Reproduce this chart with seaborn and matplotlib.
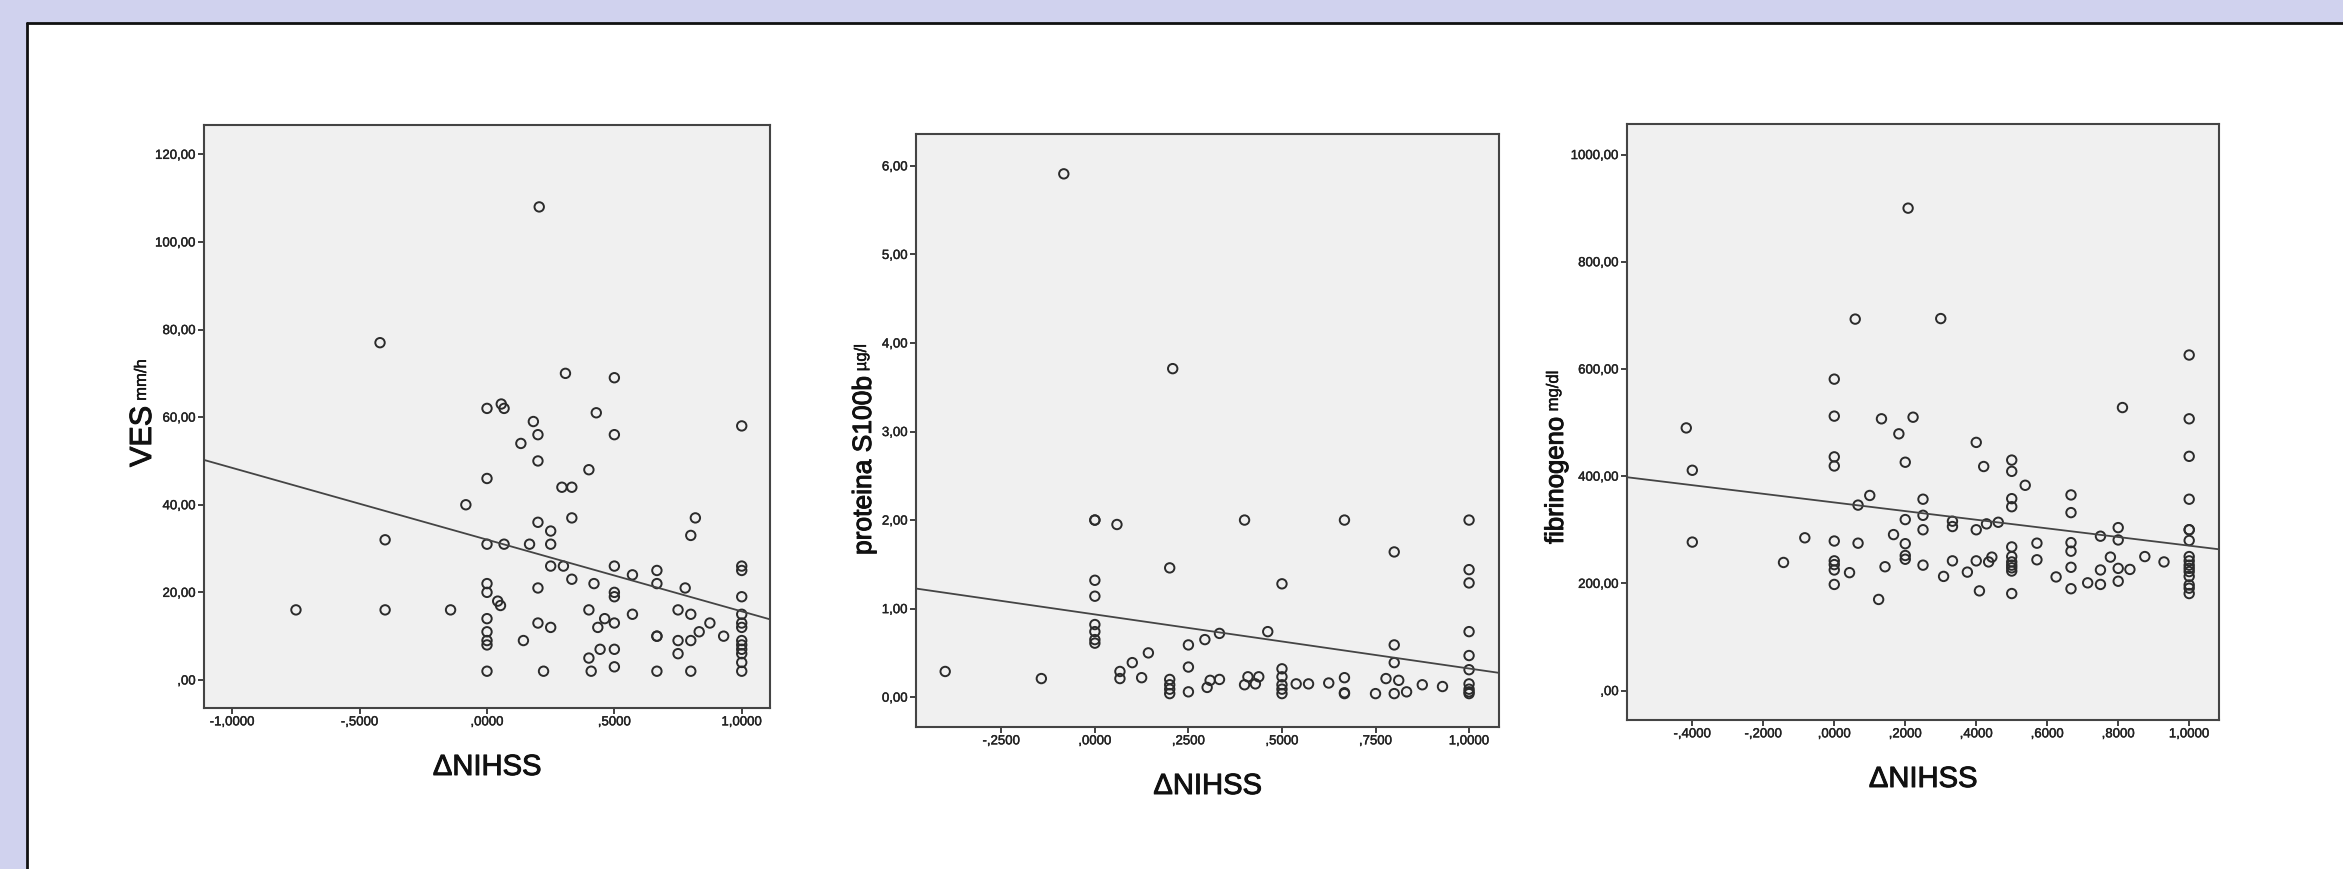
import matplotlib.pyplot as plt
import matplotlib.patheffects as pe
from matplotlib.patches import Rectangle
from matplotlib.lines import Line2D
import seaborn as sns

# --- Data (x = delta NIHSS) ---
ves_x = [-0.75, -0.42, -0.40, -0.40, -0.143, -0.083,
         0, 0, 0, 0, 0, 0, 0, 0, 0, 0,
         0.056, 0.067, 0.042, 0.053, 0.067, 0.133, 0.143, 0.167, 0.182,
         0.2, 0.2, 0.2, 0.2, 0.2, 0.205, 0.222,
         0.25, 0.25, 0.25, 0.25, 0.294, 0.333, 0.308, 0.3, 0.333, 0.333,
         0.4, 0.4, 0.4, 0.409, 0.42, 0.429, 0.435, 0.444, 0.462,
         0.5, 0.5, 0.5, 0.5, 0.5, 0.5, 0.5, 0.5, 0.571, 0.571,
         0.667, 0.667, 0.667, 0.667, 0.667, 0.75, 0.75, 0.75, 0.778,
         0.8, 0.8, 0.8, 0.8, 0.818, 0.833, 0.875, 0.929,
         1, 1, 1, 1, 1, 1, 1, 1, 1, 1, 1, 1, 1]
ves_y = [16, 77, 32, 16, 16, 40,
         62, 46, 31, 22, 20, 14, 11, 9, 8, 2,
         63, 62, 18, 17, 31, 54, 9, 31, 59,
         56, 50, 36, 21, 13, 108, 2,
         34, 31, 26, 12, 44, 44, 70, 26, 37, 23,
         48, 16, 5, 2, 22, 61, 12, 7, 14,
         69, 56, 26, 20, 19, 13, 7, 3, 24, 15,
         25, 22, 10, 10, 2, 16, 9, 6, 21,
         33, 15, 9, 2, 37, 11, 13, 10,
         58, 26, 25, 19, 15, 13, 12, 9, 8, 7, 6, 4, 2]

s100b_x = [-0.40, -0.143, -0.083,
           0, 0, 0, 0, 0, 0, 0, 0,
           0.059, 0.067, 0.067, 0.1, 0.125, 0.143,
           0.2, 0.2, 0.2, 0.2, 0.2, 0.208,
           0.25, 0.25, 0.25, 0.294, 0.3, 0.308, 0.333, 0.333,
           0.4, 0.4, 0.409, 0.429, 0.438, 0.462,
           0.5, 0.5, 0.5, 0.5, 0.5, 0.5, 0.538, 0.571, 0.625,
           0.667, 0.667, 0.667, 0.667, 0.75, 0.778,
           0.8, 0.8, 0.8, 0.8, 0.812, 0.833, 0.875, 0.929,
           1, 1, 1, 1, 1, 1, 1, 1, 1, 1]
s100b_y = [0.29, 0.21, 5.91,
           2.0, 2.0, 1.32, 1.14, 0.82, 0.74, 0.65, 0.61,
           1.95, 0.29, 0.21, 0.39, 0.22, 0.50,
           1.46, 0.20, 0.14, 0.09, 0.04, 3.71,
           0.59, 0.34, 0.06, 0.65, 0.11, 0.19, 0.72, 0.20,
           2.0, 0.14, 0.23, 0.15, 0.23, 0.74,
           1.28, 0.32, 0.23, 0.14, 0.09, 0.04, 0.15, 0.15, 0.16,
           2.0, 0.22, 0.05, 0.04, 0.04, 0.21,
           1.64, 0.59, 0.39, 0.04, 0.19, 0.06, 0.14, 0.12,
           2.0, 1.44, 1.29, 0.74, 0.47, 0.31, 0.15, 0.09, 0.06, 0.04]

fib_x = [-0.417, -0.4, -0.4, -0.143, -0.083,
         0, 0, 0, 0, 0, 0, 0, 0, 0,
         0.043, 0.059, 0.067, 0.067, 0.1, 0.125, 0.133, 0.143, 0.167, 0.182,
         0.2, 0.2, 0.2, 0.2, 0.2, 0.208, 0.222,
         0.25, 0.25, 0.25, 0.25, 0.3, 0.308, 0.333, 0.333, 0.333, 0.375,
         0.4, 0.4, 0.4, 0.409, 0.421, 0.429, 0.435, 0.444, 0.462,
         0.5, 0.5, 0.5, 0.5, 0.5, 0.5, 0.5, 0.5, 0.5, 0.5, 0.5,
         0.538, 0.571, 0.571, 0.625,
         0.667, 0.667, 0.667, 0.667, 0.667, 0.667, 0.714, 0.75, 0.75, 0.75, 0.778,
         0.8, 0.8, 0.8, 0.8, 0.812, 0.833, 0.875, 0.929,
         1, 1, 1, 1, 1, 1, 1, 1, 1, 1, 1, 1, 1, 1, 1, 1]
fib_y = [490, 411, 277, 239, 285,
         581, 512, 436, 419, 279, 242, 235, 225, 198,
         220, 693, 346, 275, 364, 170, 507, 231, 291, 479,
         426, 319, 274, 252, 245, 900, 510,
         357, 327, 300, 234, 694, 213, 316, 306, 242, 221,
         463, 300, 242, 186, 418, 311, 240, 249, 314,
         430, 409, 358, 343, 268, 250, 240, 234, 229, 223, 181,
         383, 275, 244, 212,
         365, 332, 276, 260, 230, 190, 201, 288, 225, 198, 249,
         304, 281, 228, 204, 528, 226, 250, 240,
         626, 507, 437, 357, 300, 300, 280, 250, 242, 234, 228, 222, 213, 197, 191, 181]

# tick positions and SPSS-style labels (comma decimals)
ves_xticks = [-1, -0.5, 0, 0.5, 1]
ves_xlabels = ['-1,0000', '-,5000', ',0000', ',5000', '1,0000']
ves_yticks = [0, 20, 40, 60, 80, 100, 120]
ves_ylabels = [',00', '20,00', '40,00', '60,00', '80,00', '100,00', '120,00']

s100b_xticks = [-0.25, 0, 0.25, 0.5, 0.75, 1]
s100b_xlabels = ['-,2500', ',0000', ',2500', ',5000', ',7500', '1,0000']
s100b_yticks = [0, 1, 2, 3, 4, 5, 6]
s100b_ylabels = ['0,00', '1,00', '2,00', '3,00', '4,00', '5,00', '6,00']

fib_xticks = [-0.4, -0.2, 0, 0.2, 0.4, 0.6, 0.8, 1]
fib_xlabels = ['-,4000', '-,2000', ',0000', ',2000', ',4000', ',6000', ',8000', '1,0000']
fib_yticks = [0, 200, 400, 600, 800, 1000]
fib_ylabels = [',00', '200,00', '400,00', '600,00', '800,00', '1000,00']

# --- Style ---
sns.set_theme(style='ticks')
plt.rcParams['font.family'] = ['Liberation Sans', 'DejaVu Sans']

W, H = 2343, 870
fig = plt.figure(figsize=(W / 100, H / 100), dpi=100)
fig.patch.set_facecolor('#D0D2EE')

# white sheet with a dark edge on top and left (kept behind the axes)
fig.patches.append(Rectangle((27 / W, 0), 1, (H - 24) / H, transform=fig.transFigure,
                             facecolor='white', edgecolor='none', zorder=-3))
fig.lines.append(Line2D([27 / W, 1], [(H - 24) / H] * 2, transform=fig.transFigure,
                        color='#111111', linewidth=2, zorder=-2))
fig.lines.append(Line2D([27 / W] * 2, [0, (H - 24) / H], transform=fig.transFigure,
                        color='#111111', linewidth=2, zorder=-2))

# the scanned SPSS text looks heavier than a plain regular face
heavy = [pe.withStroke(linewidth=0.7, foreground='#111111')]
light = [pe.withStroke(linewidth=0.3, foreground='#222222')]

panels = [
    dict(x=ves_x, y=ves_y, box=(204, 126, 770, 709), xlim=(-1.111, 1.111), ylim=(-6.4, 126.7),
         xt=ves_xticks, xl=ves_xlabels, yt=ves_yticks, yl=ves_ylabels,
         main='VES', sub='mm/h', lab_x=151, lab_y=468, size=22),
    dict(x=s100b_x, y=s100b_y, box=(916, 135, 1499, 728), xlim=(-0.478, 1.080), ylim=(-0.337, 6.36),
         xt=s100b_xticks, xl=s100b_xlabels, yt=s100b_yticks, yl=s100b_ylabels,
         main='proteina S100b', sub='µg/l', lab_x=871, lab_y=556, size=19),
    dict(x=fib_x, y=fib_y, box=(1627, 125, 2219, 721), xlim=(-0.584, 1.084), ylim=(-54.9, 1057),
         xt=fib_xticks, xl=fib_xlabels, yt=fib_yticks, yl=fib_ylabels,
         main='fibrinogeno', sub='mg/dl', lab_x=1563, lab_y=545, size=18.5),
]

renderer = fig.canvas.get_renderer()

for p in panels:
    l, t, r, b = p['box']
    ax = fig.add_axes([l / W, (H - b) / H, (r - l) / W, (b - t) / H])
    ax.set_facecolor('#F0F0F0')
    ax.set_xlim(*p['xlim'])
    ax.set_ylim(*p['ylim'])
    sns.regplot(x=p['x'], y=p['y'], ax=ax, ci=None, truncate=False, color='#2b2b2b',
                scatter_kws=dict(facecolors='none', edgecolors='#2b2b2b', s=46,
                                 linewidths=1.4, alpha=1),
                line_kws=dict(color='#444444', linewidth=1.3))
    ax.set_xlim(*p['xlim'])
    ax.set_ylim(*p['ylim'])
    ax.set_xticks(p['xt'], p['xl'])
    ax.set_yticks(p['yt'], p['yl'])
    ax.tick_params(direction='out', length=4, width=1.3, color='#333333',
                   labelsize=9.5, labelcolor='#222222', pad=2)
    for lab in ax.get_xticklabels() + ax.get_yticklabels():
        lab.set_path_effects(light)
    for sp in ax.spines.values():
        sp.set_color('#444444')
        sp.set_linewidth(1.5)
    ax.set_xlabel('ΔNIHSS', fontsize=21, color='#111111', path_effects=heavy)
    ax.xaxis.set_label_coords(0.5, -59 / (b - t))
    ax.xaxis.label.set_va('center')
    ax.set_ylabel('')

    # y label: large name followed by a smaller, slightly raised unit
    t1 = fig.text(p['lab_x'] / W, 1 - p['lab_y'] / H, p['main'], rotation=90,
                  rotation_mode='anchor', ha='left', va='baseline', fontsize=p['size'],
                  color='#111111', path_effects=heavy)
    length = t1.get_window_extent(renderer).height
    fig.text((p['lab_x'] - 5) / W, 1 - (p['lab_y'] - length - 5) / H, p['sub'], rotation=90,
             rotation_mode='anchor', ha='left', va='baseline', fontsize=12, color='#111111',
             path_effects=light)

fig.savefig('out.png', dpi=100, facecolor=fig.get_facecolor())
